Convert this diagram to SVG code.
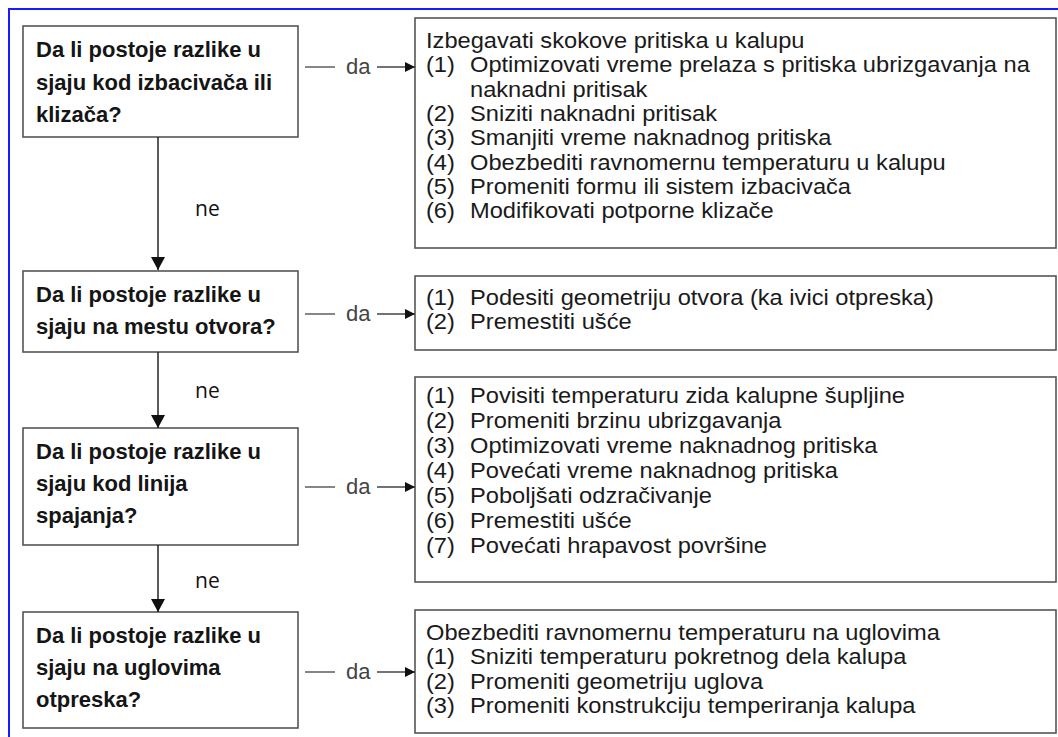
<svg xmlns="http://www.w3.org/2000/svg" width="1058" height="737" viewBox="0 0 1058 737">
<defs>
<style>
.box{fill:#fff;stroke:#555;stroke-width:1.6}
.q{font-family:"Liberation Sans",Arial,sans-serif;font-weight:bold;font-size:22px;fill:#151515}
.a{font-family:"Liberation Sans",Arial,sans-serif;font-size:21.5px;fill:#1a1a1a}
.da{font-family:"Liberation Sans",Arial,sans-serif;font-size:22px;fill:#444}
.ne{font-family:"Open Sans","Liberation Sans",sans-serif;font-size:21px;fill:#111}
.ln{stroke:#222;stroke-width:1.5;fill:none}
.lg{stroke:#444;stroke-width:1.3;fill:none}
</style>
<marker id="ah" viewBox="0 0 10 10" refX="10" refY="5" markerWidth="11" markerHeight="10" markerUnits="userSpaceOnUse" orient="auto">
<path d="M0,0 L10,5 L0,10 Z" fill="#111"/>
</marker>
<marker id="av" viewBox="0 0 14 15" refX="14" refY="7.5" markerWidth="15" markerHeight="14" markerUnits="userSpaceOnUse" orient="auto">
<path d="M0,0 L14,7.5 L0,15 Z" fill="#111"/>
</marker>
</defs>
<rect width="1058" height="737" fill="#fff"/>
<path d="M9,737 L9,9 L1058,9" fill="none" stroke="#1a1aff" stroke-width="2"/>

<g id="q1">
<rect class="box" x="23" y="26" width="275" height="111"/>
<text class="q" x="36" y="57">Da li postoje razlike u</text>
<text class="q" x="36" y="90">sjaju kod izbacivača ili</text>
<text class="q" x="36" y="122">klizača?</text>
</g>
<g id="q2">
<rect class="box" x="23" y="271" width="275" height="81"/>
<text class="q" x="36" y="302">Da li postoje razlike u</text>
<text class="q" x="36" y="334">sjaju na mestu otvora?</text>
</g>
<g id="q3">
<rect class="box" x="23" y="428" width="275" height="117"/>
<text class="q" x="36" y="459">Da li postoje razlike u</text>
<text class="q" x="36" y="491">sjaju kod linija</text>
<text class="q" x="36" y="523">spajanja?</text>
</g>
<g id="q4">
<rect class="box" x="23" y="612" width="275" height="116"/>
<text class="q" x="36" y="643">Da li postoje razlike u</text>
<text class="q" x="36" y="675">sjaju na uglovima</text>
<text class="q" x="36" y="707">otpreska?</text>
</g>

<g id="r1">
<rect class="box" x="415" y="18" width="641" height="230"/>
<g transform="translate(426 0) scale(1.1 1)">
<text class="a" x="0" y="48">Izbegavati skokove pritiska u kalupu</text>
<text class="a" x="0" y="72">(1)</text><text class="a" x="40" y="72">Optimizovati vreme prelaza s pritiska ubrizgavanja na</text>
<text class="a" x="40" y="97">naknadni pritisak</text>
<text class="a" x="0" y="121">(2)</text><text class="a" x="40" y="121">Sniziti naknadni pritisak</text>
<text class="a" x="0" y="145">(3)</text><text class="a" x="40" y="145">Smanjiti vreme naknadnog pritiska</text>
<text class="a" x="0" y="170">(4)</text><text class="a" x="40" y="170">Obezbediti ravnomernu temperaturu u kalupu</text>
<text class="a" x="0" y="194">(5)</text><text class="a" x="40" y="194">Promeniti formu ili sistem izbacivača</text>
<text class="a" x="0" y="218">(6)</text><text class="a" x="40" y="218">Modifikovati potporne klizače</text>
</g>
</g>
<g id="r2">
<rect class="box" x="415" y="276" width="641" height="74"/>
<g transform="translate(426 0) scale(1.1 1)">
<text class="a" x="0" y="305">(1)</text><text class="a" x="40" y="305">Podesiti geometriju otvora (ka ivici otpreska)</text>
<text class="a" x="0" y="329">(2)</text><text class="a" x="40" y="329">Premestiti ušće</text>
</g>
</g>
<g id="r3">
<rect class="box" x="415" y="377" width="641" height="205"/>
<g transform="translate(426 0) scale(1.1 1)">
<text class="a" x="0" y="403">(1)</text><text class="a" x="40" y="403">Povisiti temperaturu zida kalupne šupljine</text>
<text class="a" x="0" y="428">(2)</text><text class="a" x="40" y="428">Promeniti brzinu ubrizgavanja</text>
<text class="a" x="0" y="453">(3)</text><text class="a" x="40" y="453">Optimizovati vreme naknadnog pritiska</text>
<text class="a" x="0" y="478">(4)</text><text class="a" x="40" y="478">Povećati vreme naknadnog pritiska</text>
<text class="a" x="0" y="503">(5)</text><text class="a" x="40" y="503">Poboljšati odzračivanje</text>
<text class="a" x="0" y="528">(6)</text><text class="a" x="40" y="528">Premestiti ušće</text>
<text class="a" x="0" y="553">(7)</text><text class="a" x="40" y="553">Povećati hrapavost površine</text>
</g>
</g>
<g id="r4">
<rect class="box" x="415" y="610" width="641" height="123"/>
<g transform="translate(426 0) scale(1.1 1)">
<text class="a" x="0" y="640">Obezbediti ravnomernu temperaturu na uglovima</text>
<text class="a" x="0" y="664">(1)</text><text class="a" x="40" y="664">Sniziti temperaturu pokretnog dela kalupa</text>
<text class="a" x="0" y="689">(2)</text><text class="a" x="40" y="689">Promeniti geometriju uglova</text>
<text class="a" x="0" y="713">(3)</text><text class="a" x="40" y="713">Promeniti konstrukciju temperiranja kalupa</text>
</g>
</g>

<g id="connectors">
<line class="ln" x1="158" y1="137" x2="158" y2="270" marker-end="url(#av)"/>
<line class="ln" x1="158" y1="352" x2="158" y2="428" marker-end="url(#av)"/>
<line class="ln" x1="158" y1="545" x2="158" y2="612" marker-end="url(#av)"/>
<text class="ne" x="195" y="216">ne</text>
<text class="ne" x="195" y="398">ne</text>
<text class="ne" x="195" y="588">ne</text>

<line class="lg" x1="305" y1="67" x2="335" y2="67"/>
<text class="da" x="346" y="74">da</text>
<line class="lg" x1="377" y1="67" x2="415" y2="67" marker-end="url(#ah)"/>

<line class="lg" x1="305" y1="314" x2="335" y2="314"/>
<text class="da" x="346" y="321">da</text>
<line class="lg" x1="377" y1="314" x2="415" y2="314" marker-end="url(#ah)"/>

<line class="lg" x1="305" y1="487" x2="335" y2="487"/>
<text class="da" x="346" y="494">da</text>
<line class="lg" x1="377" y1="487" x2="415" y2="487" marker-end="url(#ah)"/>

<line class="lg" x1="305" y1="672" x2="335" y2="672"/>
<text class="da" x="346" y="679">da</text>
<line class="lg" x1="377" y1="672" x2="415" y2="672" marker-end="url(#ah)"/>
</g>
</svg>
